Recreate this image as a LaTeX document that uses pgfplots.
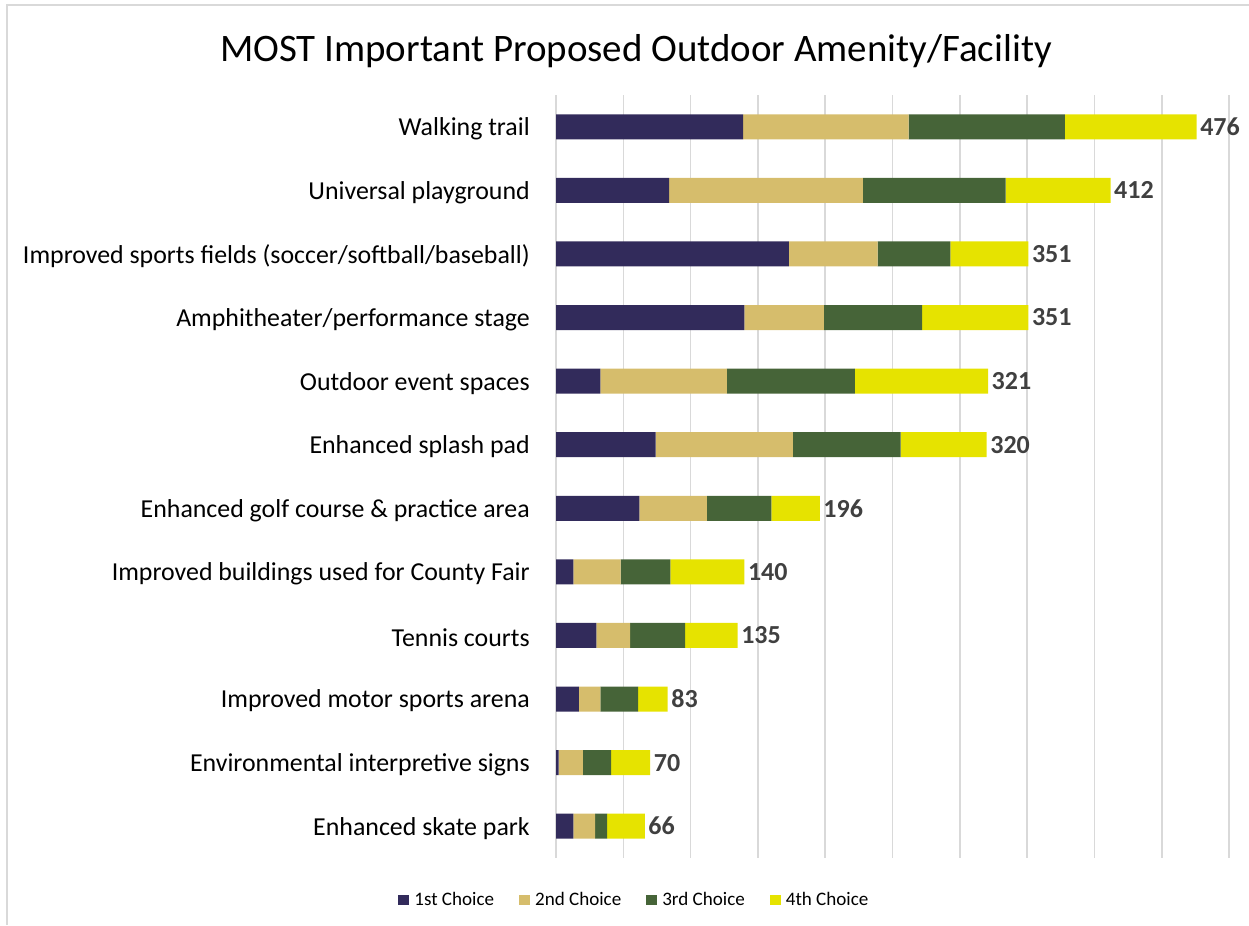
\documentclass[border=0pt]{standalone}
\usepackage{fontspec}
\setmainfont{Carlito}
\usepackage{pgfplots}
\usepackage{pgfplotstable}
\pgfplotsset{compat=1.18}
\definecolor{cA}{HTML}{322B5B}
\definecolor{cB}{HTML}{D6BD6C}
\definecolor{cC}{HTML}{466438}
\definecolor{cD}{HTML}{E6E300}
\definecolor{gridc}{HTML}{D9D9D9}
\definecolor{labc}{HTML}{404040}
\pgfplotstableread{
idx c1 c2 c3 c4 eps tot
0 139 123 116 98 0.01 476
1 84 144 106 78 0.01 412
2 173 66 54 58 0.01 351
3 140 59 73 79 0.01 351
4 33 94 95 99 0.01 321
5 74 102 80 64 0.01 320
6 62 50 48 36 0.01 196
7 13 35 37 55 0.01 140
8 30 25 41 39 0.01 135
9 17 16 28 22 0.01 83
10 2 18 21 29 0.01 70
11 13 16 9 28 0.01 66
}\datatable
\begin{document}
\begin{tikzpicture}[x=0.75pt,y=0.75pt]
\path[use as bounding box] (0,0) rectangle (1249,925);
\draw[gridc, line width=1.2pt] (7,0) -- (7,920) -- (1249,920);
\node[font=\fontsize{29.2}{35}\selectfont, text=black] at (636,874) {MOST Important Proposed Outdoor Amenity/Facility};
\begin{axis}[
  at={(417pt,50.25pt)}, anchor=south west,
  width=504.75pt, height=572.25pt, scale only axis,
  xbar stacked, bar width=18.75pt,
  xmin=0, xmax=500, ymin=-0.5, ymax=11.5,
  y dir=reverse,
  xtick={0,50,...,500}, xticklabels={},
  xmajorgrids, grid style={gridc, line width=1.2pt},
  major tick length=0pt,
  axis line style={draw=none},
  ytick={0,...,11},
  yticklabels={Walking trail, Universal playground, Improved sports fields (soccer/softball/baseball), Amphitheater/performance stage, Outdoor event spaces, Enhanced splash pad, Enhanced golf course \& practice area, Improved buildings used for County Fair, Tennis courts, Improved motor sports arena, Environmental interpretive signs, Enhanced skate park},
  yticklabel style={font=\fontsize{19.4}{23}\selectfont, inner sep=0pt, xshift=-19.5pt, yshift=-1.5pt, text=black},
  /pgf/number format/assume math mode=true,
  legend columns=4,
  legend style={draw=none, fill=none, at={(0.115,-0.055)}, anchor=center,
    font=\fontsize{14.3}{17}\selectfont, nodes={inner sep=0pt},
    /tikz/every odd column/.append style={column sep=3.75pt},
    /tikz/every even column/.append style={column sep=18.75pt}},
  legend cell align=left,
  clip=false,
]
\addplot[fill=cA, draw=none, legend image code/.code={\fill[cA] (0pt,-4.1pt) rectangle (8.25pt,4.1pt);}] table[x=c1, y=idx] {\datatable};
\addlegendentry{1st Choice}
\addplot[fill=cB, draw=none, legend image code/.code={\fill[cB] (0pt,-4.1pt) rectangle (8.25pt,4.1pt);}] table[x=c2, y=idx] {\datatable};
\addlegendentry{2nd Choice}
\addplot[fill=cC, draw=none, legend image code/.code={\fill[cC] (0pt,-4.1pt) rectangle (8.25pt,4.1pt);}] table[x=c3, y=idx] {\datatable};
\addlegendentry{3rd Choice}
\addplot[fill=cD, draw=none, legend image code/.code={\fill[cD] (0pt,-4.1pt) rectangle (8.25pt,4.1pt);}] table[x=c4, y=idx] {\datatable};
\addlegendentry{4th Choice}
\addplot[fill=none, draw=none, forget plot,
  point meta=explicit, nodes near coords,
  nodes near coords style={anchor=west, inner sep=2.5pt, font=\fontsize{19.5}{23}\selectfont\bfseries, text=labc}] table[x=eps, y=idx, meta=tot] {\datatable};
\end{axis}
\end{tikzpicture}
\end{document}
